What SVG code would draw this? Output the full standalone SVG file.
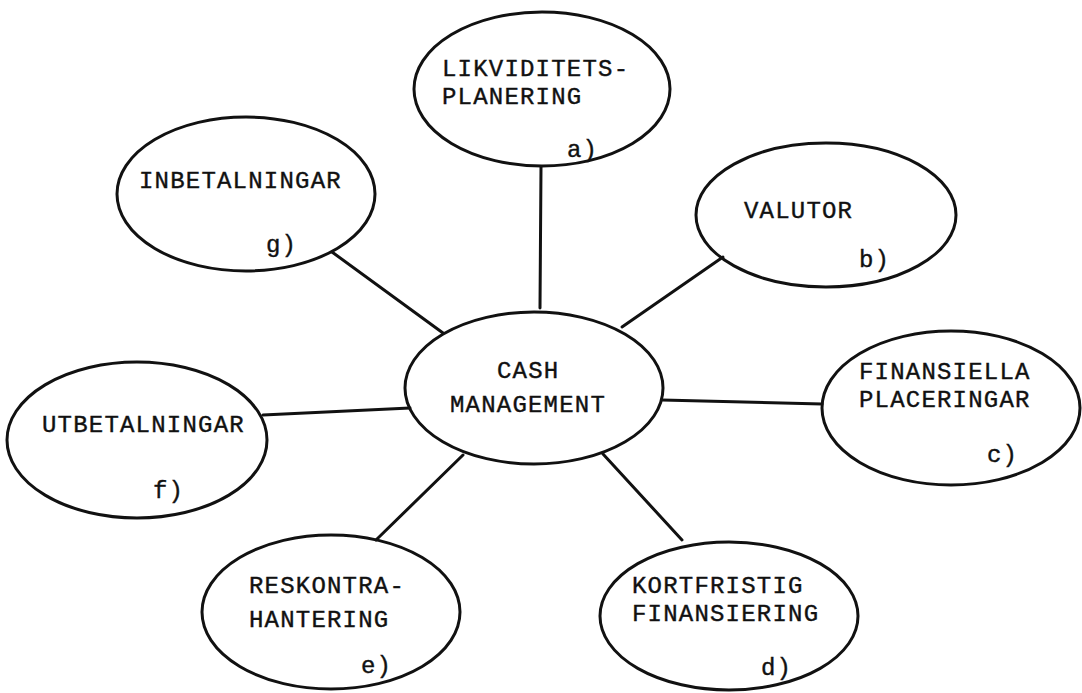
<svg xmlns="http://www.w3.org/2000/svg" width="1082" height="693" viewBox="0 0 1082 693">
<style>
.n ellipse{fill:none;stroke:#111;stroke-width:3}
.c line{stroke:#111;stroke-width:3;stroke-linecap:round}
text{font-family:"Liberation Mono","DejaVu Sans Mono",monospace;font-size:24px;letter-spacing:1.2px;fill:#111;stroke:#111;stroke-width:0.4}
</style>
<rect width="1082" height="693" fill="#fff"/>
<g class="c" id="connectors">
<line x1="541" y1="167" x2="540" y2="308"/>
<line x1="332" y1="252" x2="443" y2="333"/>
<line x1="622" y1="327" x2="723" y2="257"/>
<line x1="662" y1="400" x2="822" y2="404"/>
<line x1="603" y1="454" x2="682" y2="540"/>
<line x1="463" y1="455" x2="376" y2="540"/>
<line x1="263" y1="415" x2="410" y2="408"/>
</g>
<g class="n" id="center"><ellipse cx="534" cy="388" rx="129" ry="76"/><text x="497" y="378">CASH</text><text x="450" y="412">MANAGEMENT</text></g>
<g class="n" id="node-a"><ellipse cx="542" cy="89" rx="128" ry="77"/><text x="442" y="76">LIKVIDITETS-</text><text x="442" y="104">PLANERING</text><text x="567" y="157">a)</text></g>
<g class="n" id="node-b"><ellipse cx="826" cy="215" rx="130" ry="72"/><text x="744" y="218">VALUTOR</text><text x="859" y="267">b)</text></g>
<g class="n" id="node-c"><ellipse cx="951" cy="408" rx="129" ry="77"/><text x="859" y="379">FINANSIELLA</text><text x="859" y="407">PLACERINGAR</text><text x="987" y="462">c)</text></g>
<g class="n" id="node-d"><ellipse cx="729" cy="616" rx="129" ry="74"/><text x="632" y="593">KORTFRISTIG</text><text x="632" y="621">FINANSIERING</text><text x="761" y="675">d)</text></g>
<g class="n" id="node-e"><ellipse cx="331" cy="612" rx="129" ry="77"/><text x="249" y="593">RESKONTRA-</text><text x="249" y="627">HANTERING</text><text x="361" y="673">e)</text></g>
<g class="n" id="node-f"><ellipse cx="137" cy="440" rx="130" ry="78"/><text x="42" y="432">UTBETALNINGAR</text><text x="153" y="498">f)</text></g>
<g class="n" id="node-g"><ellipse cx="246" cy="194" rx="129" ry="77"/><text x="139" y="188">INBETALNINGAR</text><text x="266" y="252">g)</text></g>
</svg>
